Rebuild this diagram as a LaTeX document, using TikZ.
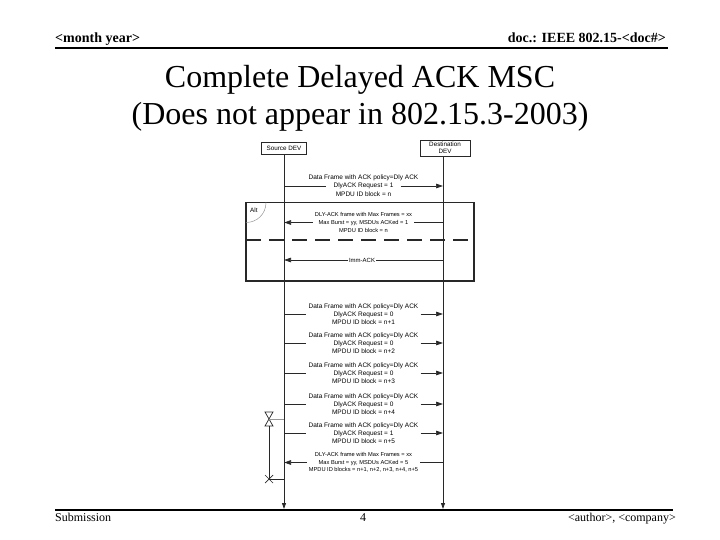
\documentclass[tikz,border=0pt]{standalone}
\usepackage{fontspec}
\setmainfont{Liberation Serif}
\setsansfont{Liberation Sans}
\usetikzlibrary{arrows.meta,positioning}
\definecolor{lnblack}{RGB}{40,40,40}
\definecolor{lngray}{RGB}{150,150,150}
\tikzset{
  devbox/.style={draw=lnblack, line width=0.6pt, font=\sffamily\fontsize{6.3}{7.4}\selectfont,
                 align=center, inner sep=1pt},
  lifeln/.style={lnblack, line width=0.8pt, -{Triangle[length=6pt,width=4pt]}},
  msg/.style={font=\sffamily\fontsize{6.5}{8.2}\selectfont, align=center, inner sep=2pt},
  smsg/.style={font=\sffamily\fontsize{5.7}{7.6}\selectfont, align=center, inner sep=2pt},
  msgarr/.style={lnblack, line width=0.7pt, -{Triangle[length=7pt,width=4.5pt]}},
  msgln/.style={lnblack, line width=0.7pt},
  altbox/.style={draw=lnblack, line width=1.1pt},
  altsep/.style={lnblack, line width=1.2pt, dash pattern=on 15pt off 8pt},
  tmr/.style={lnblack, line width=0.7pt},
  hdr/.style={font=\bfseries\fontsize{14}{16}\selectfont, inner sep=0pt},
  ftr/.style={font=\fontsize{12}{14}\selectfont, inner sep=0pt},
  ttl/.style={font=\fontsize{32}{37}\selectfont, align=center},
  rule/.style={black, line width=2pt},
}

\begin{document}
\begin{tikzpicture}[x=1pt, y=-1pt]
  \useasboundingbox (0,0) rectangle (720,540);

  % header and footer
  \node[hdr, anchor=base west] (month) at (55,43) {<month year>};
  \node[hdr, anchor=base east] (docnum) at (666,43) {doc.: IEEE 802.15-<doc\#>};
  \coordinate (hl) at (55,48); \coordinate (hr) at (668,48);
  \draw[rule] (hl) -- (hr);
  \node[ttl] (title) at (360,98) {Complete Delayed ACK MSC\\(Does not appear in 802.15.3-2003)};
  \coordinate (fl) at (55,510); \coordinate (fr) at (673,510);
  \draw[rule] (fl) -- (fr);
  \node[ftr, anchor=base west] (subm) at (55,521) {Submission};
  \node[ftr, anchor=base] (pgnum) at (363,521) {4};
  \node[ftr, anchor=base east] (auth) at (676,521) {<author>, <company>};

  % devices and lifelines
  \node[devbox, minimum width=45pt, minimum height=12pt] (src) at (284,148) {Source DEV};
  \node[devbox, minimum width=50pt, minimum height=16pt] (dst) at (445,148) {Destination\\DEV};
  \coordinate (lend) at (0,509);
  \draw[lifeln] (src.south) -- (src.south |- lend);
  \draw[lifeln] (dst.south -| 443,0) -- (443,509);

  % request
  \node[msg, inner xsep=7pt] (m1) at (363.5,186) {DlyACK Request = 1};
  \node[msg] (m1a) at (363.5,177.7) {Data Frame with ACK policy=Dly ACK};
  \node[msg] (m1b) at (363.5,194.3) {MPDU ID block = n};
  \draw[msgln] (src.south |- m1) -- (m1.west);
  \draw[msgarr] (m1.east) -- (443,186);

  % alt block
  \coordinate (altnw) at (246,202.5); \coordinate (altse) at (474,281);
  \draw[altbox] (altnw) rectangle (altse);
  \node[font=\sffamily\fontsize{6.3}{7}\selectfont, anchor=west, inner sep=0pt] (alt) at (250,210) {Alt};
  \draw[lngray, line width=0.5pt] (266,202.5) .. controls (266,214) and (257,222.5) .. (246,222.5);
  \coordinate (altw) at (246,240); \coordinate (alte) at (474,240);
  \draw[altsep] (altw) -- (alte);
  \node[smsg] (a1) at (363.5,222.5) {DLY-ACK frame with Max Frames = xx\\Max Burst = yy, MSDUs ACKed = 1\\MPDU ID block = n};
  \draw[msgln] (443,222.5) -- (a1.east);
  \draw[msgarr] (a1.west) -- (src.south |- a1);
  \node[smsg, font=\sffamily\fontsize{6}{7}\selectfont, inner sep=1pt] (ia) at (362,260) {Imm-ACK};
  \draw[msgln] (443,260) -- (ia.east);
  \draw[msgarr] (ia.west) -- (src.south |- ia);

  % data frames
  \foreach \k/\y/\r in {1/314/0, 2/343/0, 3/373/0, 4/404/0, 5/433/1} {
    \node[msg] (d\k) at (363.5,\y) {Data Frame with ACK policy=Dly ACK\\DlyACK Request = \r\\MPDU ID block = n+\k};
    \draw[msgln] (src.south |- d\k) -- (d\k.west);
    \draw[msgarr] (d\k.east) -- (443,\y);
  }

  % final response
  \node[smsg] (a2) at (363.5,462.5) {DLY-ACK frame with Max Frames = xx\\Max Burst = yy, MSDUs ACKed = 5\\MPDU ID blocks = n+1, n+2, n+3, n+4, n+5};
  \draw[msgln] (443,462.5) -- (a2.east);
  \draw[msgarr] (a2.west) -- (src.south |- a2);

  % timer
  \coordinate (tset) at (269,419); \coordinate (tout) at (269,479);
  \draw[tmr] (265,412) -- (273,412) -- (265,426) -- (273,426) -- cycle;
  \draw[lngray, line width=0.7pt] (tset) -- (src.south |- tset);
  \draw[tmr] (269,426) -- (tout);
  \draw[tmr] (265,475) -- (273,483) (273,475) -- (265,483);
  \draw[tmr] (tout) -- (src.south |- tout);
\end{tikzpicture}
\end{document}
